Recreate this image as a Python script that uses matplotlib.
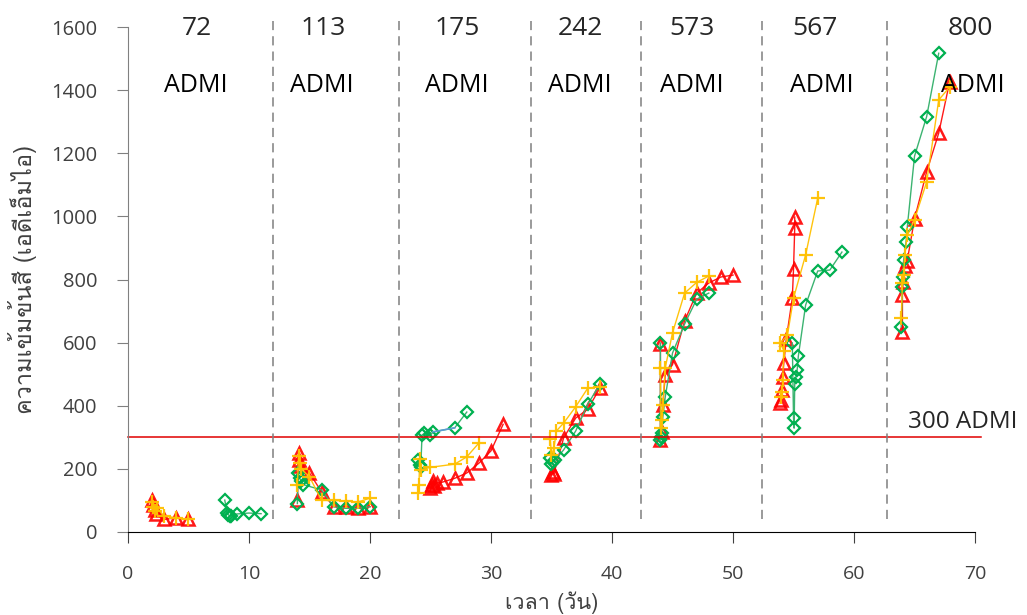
import matplotlib
matplotlib.use('Agg')
import matplotlib.pyplot as plt
from matplotlib import font_manager, ft2font

# ข้อมูลแต่ละกลุ่มความเข้มข้นเริ่มต้น (ADMI)
groups = ['72', '113', '175', '242', '573', '567', '800']

red_x = [[2.0, 2.1, 2.2, 2.3, 3.0, 4.0, 5.0],
         [14.0, 14.1, 14.15, 14.2, 15.0, 16.0, 17.0, 18.0, 19.0, 20.0],
         [25.0, 25.1, 25.2, 25.3, 25.5, 26.0, 27.0, 28.0, 29.0, 30.0, 31.0],
         [35.0, 35.1, 35.2, 36.0, 37.0, 38.0, 39.0],
         [44.0, 44.0, 44.1, 44.2, 44.4, 45.0, 46.0, 47.0, 48.0, 49.0, 50.0],
         [53.9, 54.0, 54.05, 54.1, 54.2, 54.4, 54.9, 55.0, 55.1, 55.1],
         [64.0, 64.0, 64.05, 64.2, 64.4, 65.0, 66.0, 67.0, 67.9]]
red_y = [[100, 85, 70, 58, 40, 45, 40],
         [100, 250, 228, 210, 187, 127, 80, 80, 75, 80],
         [140, 150, 160, 145, 155, 158, 170, 187, 218, 257, 341],
         [181, 190, 185, 298, 361, 389, 456],
         [597, 292, 317, 402, 497, 530, 669, 757, 789, 808, 814],
         [408, 418, 450, 491, 535, 611, 741, 833, 963, 998],
         [634, 751, 792, 843, 860, 992, 1141, 1264, 1426]]

yellow_x = [[2.0, 2.1, 2.2, 2.4, 3.0, 4.0, 5.0],
            [14.0, 14.1, 14.2, 14.3, 15.0, 16.0, 17.0, 18.0, 19.0, 20.0],
            [24.0, 24.05, 24.1, 24.2, 25.0, 27.0, 28.0, 29.0],
            [34.9, 35.0, 35.2, 35.4, 36.0, 37.0, 38.0, 39.0],
            [44.0, 44.05, 44.1, 44.2, 44.4, 45.0, 46.0, 47.0, 48.0],
            [54.0, 54.05, 54.1, 54.2, 53.9, 54.5, 55.0, 56.0, 57.0],
            [63.9, 64.0, 64.1, 64.2, 64.4, 65.0, 66.0, 67.0, 67.9]]
yellow_y = [[95, 80, 65, 75, 50, 45, 40],
            [150, 240, 220, 200, 175, 100, 100, 98, 95, 107],
            [123, 148, 231, 197, 205, 215, 238, 282],
            [294, 244, 265, 320, 345, 397, 456, 460],
            [520, 330, 355, 402, 520, 631, 757, 791, 811],
            [428, 444, 481, 575, 598, 624, 741, 878, 1058],
            [678, 789, 815, 878, 940, 990, 1109, 1369, 1410]]

green_x = [[8.0, 8.2, 8.3, 8.4, 8.5, 9.0, 10.0, 11.0],
           [14.0, 14.05, 14.2, 14.3, 14.5, 16.0, 17.0, 18.0, 19.0, 20.0],
           [24.0, 24.1, 24.2, 24.3, 24.5, 25.0, 25.2, 27.0, 28.0],
           [34.9, 35.0, 35.1, 35.3, 36.0, 37.0, 38.0, 39.0],
           [44.0, 44.0, 44.05, 44.1, 44.2, 44.4, 45.0, 46.0, 47.0, 48.0],
           [54.9, 55.0, 55.05, 55.1, 55.2, 55.3, 55.4, 56.0, 57.0, 58.0, 59.0],
           [63.9, 64.0, 64.05, 64.1, 64.3, 64.4, 65.0, 66.0, 67.0]]
green_y = [[101, 60, 55, 50, 52, 57, 60, 58],
           [90, 187, 170, 160, 150, 133, 80, 75, 75, 80],
           [228, 212, 205, 307, 313, 306, 317, 330, 380],
           [234, 215, 222, 228, 260, 320, 405, 468],
           [599, 291, 300, 315, 364, 428, 567, 659, 738, 757],
           [599, 361, 329, 469, 490, 513, 558, 719, 827, 830, 887],
           [650, 777, 809, 862, 919, 966, 1191, 1316, 1517]]

# เส้นสีฟ้าช่วงหนึ่งในกลุ่ม 175
blue_x = [25.2, 27.0]
blue_y = [317, 330]

limit_y = 300
dividers = [12.0, 22.4, 33.3, 42.4, 52.4, 62.7]
label_x = [5.7, 16.1, 27.2, 37.4, 46.6, 56.8, 69.6]
admi_x = [5.6, 16.0, 27.2, 37.3, 46.6, 57.3, 69.8]


def find_thai_font():
    for f in font_manager.fontManager.ttflist:
        try:
            if 0x0E27 in ft2font.FT2Font(f.fname).get_charmap():
                return f.name
        except Exception:
            pass
    return 'DejaVu Sans'


thai_font = find_thai_font()
plt.rcParams['font.family'] = ['Open Sans', thai_font, 'DejaVu Sans']

fig = plt.figure(figsize=(10.27, 6.15), dpi=100)
ax = fig.add_axes([0.1246, 0.135, 0.8248, 0.821])

for xs, ys in zip(red_x, red_y):
    ax.plot(xs, ys, color='#FF0000', lw=1, marker='^', ms=8, mfc='none',
            mec='#FF0000', mew=1.8, alpha=0.9)
for xs, ys in zip(green_x, green_y):
    ax.plot(xs, ys, color='#3CB371', lw=1, marker='D', ms=6.5, mfc='none',
            mec='#00B050', mew=1.6)
ax.plot(blue_x, blue_y, color='#5B9BD5', lw=1.2)
for xs, ys in zip(yellow_x, yellow_y):
    ax.plot(xs, ys, color='#FFC000', lw=1, marker='+', ms=10, mew=1.6,
            alpha=0.95)

ax.axhline(limit_y, xmin=0, xmax=1.007, color='#E00000', lw=1.1, clip_on=False)
ax.vlines(dividers, 40, 1620, colors='#7F7F7F', linestyles=(0, (6, 4)),
          lw=1.1, clip_on=False)

for g, lx, ax_x in zip(groups, label_x, admi_x):
    ax.text(lx, 1597, g, ha='center', va='center', fontsize=19, color='#262626')
    ax.text(ax_x, 1416, 'ADMI', ha='center', va='center', fontsize=18,
            color='#000000')
ax.text(69.0, 350, '300 ADMI', ha='center', va='center', fontsize=17.5,
        color='#262626')

ax.set_xlim(0, 70)
ax.set_ylim(0, 1600)
ax.set_xticks(range(0, 71, 10))
ax.set_yticks(range(0, 1601, 200))
for s in ['top', 'right']:
    ax.spines[s].set_visible(False)
ax.spines['left'].set_color('#808080')
ax.spines['bottom'].set_color('#000000')
ax.tick_params(axis='y', direction='out', length=8, color='#808080',
               labelsize=14.5, labelcolor='#404040', pad=14)
ax.tick_params(axis='x', direction='out', length=8, color='#404040',
               labelsize=14, labelcolor='#404040', pad=16)

ax.set_xlabel('เวลา (วัน)', family=[thai_font, 'DejaVu Sans'], fontsize=15.5,
              color='#404040', labelpad=6)
ax.set_ylabel('ความเข้มข้นสี (เอดีเอ็มไอ)', family=[thai_font, 'DejaVu Sans'],
              fontsize=17, color='#404040', labelpad=10)

fig.savefig('out.png', dpi=100)
